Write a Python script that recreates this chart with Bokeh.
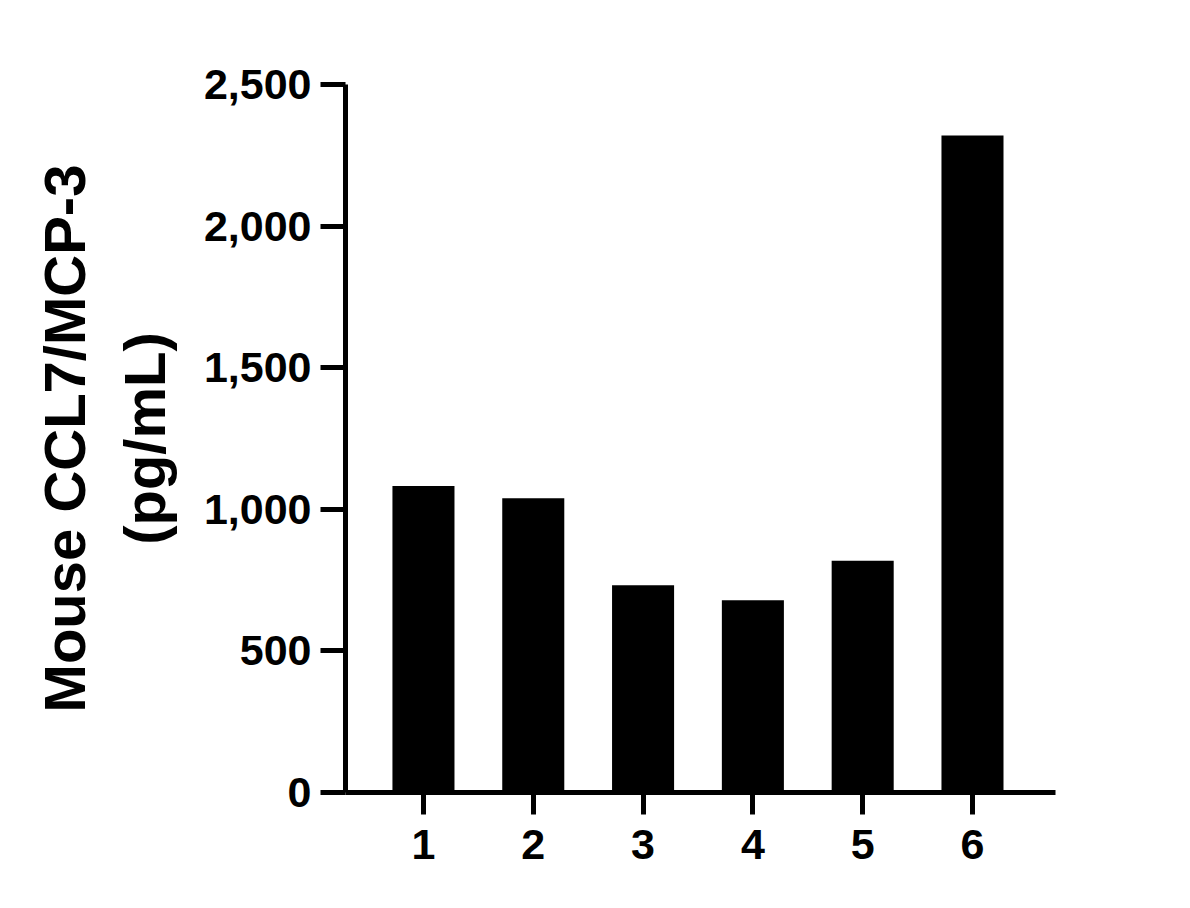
from bokeh.plotting import figure
from bokeh.models import Range1d, LinearAxis, FixedTicker, NumeralTickFormatter, ColumnDataSource
from bokeh.embed import file_html
from bokeh.resources import INLINE

# data
categories = [1, 2, 3, 4, 5, 6]
values = [1082, 1039, 732, 679, 818, 2320]
y_ticks = [0, 500, 1000, 1500, 2000, 2500]
y_label_line1 = "Mouse CCL7/MCP-3"
y_label_line2 = "(pg/mL)"

FONT = "Liberation Sans"

p = figure(width=1170, height=890, output_backend="svg", toolbar_location=None,
           x_range=Range1d(0.29, 6.756), y_range=Range1d(0, 2500),
           min_border_left=345, min_border_top=84, min_border_right=115,
           min_border_bottom=98, outline_line_color=None, y_axis_location=None,
           x_axis_location=None)
p.grid.visible = False
p.background_fill_color = "white"
p.border_fill_color = "white"

src = ColumnDataSource(dict(x=categories, top=values))
p.vbar(x="x", top="top", bottom=0, width=0.565, source=src,
       fill_color="black", line_color=None)

def style(ax):
    ax.axis_line_width = 5
    ax.axis_line_color = "black"
    ax.major_tick_line_width = 5
    ax.major_tick_line_color = "black"
    ax.major_tick_in = 0
    ax.minor_tick_line_color = None
    ax.major_label_text_font = FONT
    ax.major_label_text_font_style = "bold"
    ax.major_label_text_font_size = "43px"
    ax.major_label_text_color = "black"
    ax.axis_label_text_font = FONT
    ax.axis_label_text_font_style = "bold"
    ax.axis_label_text_font_size = "58px"
    ax.axis_label_text_color = "black"

# x axis
xa = LinearAxis(ticker=FixedTicker(ticks=categories))
style(xa)
xa.major_tick_out = 22
xa.major_label_standoff = 15
p.add_layout(xa, "below")

# y axis with ticks (inner label line)
ya = LinearAxis(ticker=FixedTicker(ticks=y_ticks),
                formatter=NumeralTickFormatter(format="0,0"),
                axis_label=y_label_line2)
style(ya)
ya.major_tick_out = 25
ya.major_label_standoff = 9
ya.axis_label_standoff = 24
p.add_layout(ya, "left")

# outer label line
ya2 = LinearAxis(ticker=FixedTicker(ticks=[]), axis_label=y_label_line1)
style(ya2)
ya2.axis_line_color = None
ya2.major_tick_out = 0
ya2.major_label_standoff = 0
ya2.axis_label_standoff = 12
p.add_layout(ya2, "left")

open("out.html", "w").write(file_html(p, INLINE))
